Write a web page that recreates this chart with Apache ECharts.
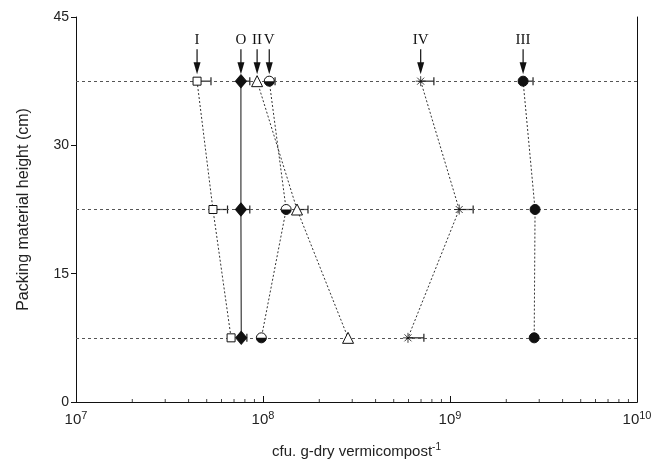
<!DOCTYPE html>
<html><head><meta charset="utf-8">
<script src="https://cdn.jsdelivr.net/npm/echarts@6/dist/echarts.min.js"></script>
<style>html,body{margin:0;padding:0;background:#fff}#c{width:655px;height:465px}</style>
</head><body><div id="c"></div>
<script>
// ---- data ----
const heights = [37.5, 22.5, 7.5];
const yTicks = [0, 15, 30, 45];
const xExponents = [7, 8, 9, 10];
const minorDecades = [1e7, 1e8, 1e9];
const minorMultipliers = [2, 3, 4, 5, 6, 7, 8, 9];
const seriesNames = ['I', 'O', 'II', 'V', 'IV', 'III'];
const valI   = [4.44e7, 5.4e7, 6.75e7];
const errI   = [5.27e7, 6.46e7, null];
const valO   = [7.62e7, 7.62e7, 7.65e7];
const errO   = [8.5e7, 8.5e7, 8.2e7];
const valII  = [9.3e7, 1.52e8, 2.85e8];
const errII  = [null, 1.74e8, null];
const valV   = [1.08e8, 1.33e8, 9.8e7];
const errV   = [1.16e8, null, null];
const valIV  = [6.97e8, 1.12e9, 5.96e8];
const errIV  = [8.2e8, 1.33e9, 7.25e8];
const valIII = [2.46e9, 2.85e9, 2.82e9];
const errIII = [2.78e9, 2.9e9, null];

const allVals = [valI, valO, valII, valV, valIV, valIII];
const allErrs = [errI, errO, errII, errV, errIV, errIII];

const pts = v => v.map((x, i) => [x, heights[i]]);
const INK = '#111';
const DOT = '#333';

const errData = [];
allVals.forEach((v, s) => v.forEach((x, i) => {
  if (allErrs[s][i] != null) errData.push([x, heights[i], allErrs[s][i]]);
}));
const arrowData = seriesNames.map((n, i) => [allVals[i][0], heights[0], n]);
const minorData = [];
minorDecades.forEach(d => minorMultipliers.forEach(m => minorData.push([d * m, 0])));

function lineSeries(v, solid) {
  return {
    type: 'line', data: pts(v), symbol: 'none', z: 3,
    lineStyle: { color: solid ? INK : DOT, width: 1, type: solid ? 'solid' : [2, 2] },
    silent: true
  };
}
function scatter(v, symbol, size, fill) {
  return {
    type: 'scatter', data: pts(v), symbol: symbol, symbolSize: size, z: 6,
    itemStyle: { color: fill, borderColor: INK, borderWidth: 1, opacity: 1 }
  };
}

const option = {
  animation: false,
  backgroundColor: '#fff',
  grid: { left: 76, right: 18, top: 17, bottom: 63 },
  xAxis: [{
    type: 'log', min: 1e7, max: 1e10, logBase: 10,
    axisLine: { show: true, lineStyle: { color: INK, width: 1 } },
    axisTick: { show: true, inside: true, length: 6, lineStyle: { color: INK } },
    minorTick: { show: false },
    splitLine: { show: false },
    axisLabel: {
      margin: 8,
      formatter: function (val) {
        const e = Math.round(Math.log10(val));
        return '{b|10}{s|' + e + '}';
      },
      rich: {
        b: { fontSize: 15, fontFamily: 'Liberation Sans', color: '#222' },
        s: { fontSize: 11, fontFamily: 'Liberation Sans', color: '#222', padding: [0, 0, 9, 0] }
      }
    },
    name: 'cfu. g-dry vermicompost{s|-1}',
    nameLocation: 'middle', nameGap: 40,
    nameTextStyle: {
      fontSize: 15, fontFamily: 'Liberation Sans', color: '#222',
      rich: { s: { fontSize: 10, fontFamily: 'Liberation Sans', color: '#222', padding: [0, 0, 9, 0] } }
    }
  }, {
    type: 'log', min: 1e7, max: 1e10, position: 'top',
    axisLine: { show: true, lineStyle: { color: INK, width: 1 } },
    axisTick: { show: false }, axisLabel: { show: false }, splitLine: { show: false }
  }],
  yAxis: [{
    type: 'value', min: 0, max: 45, interval: 15,
    axisLine: { show: true, lineStyle: { color: INK, width: 1 } },
    axisTick: { show: true, inside: false, length: 5, lineStyle: { color: INK } },
    splitLine: { show: false },
    axisLabel: { fontSize: 14, fontFamily: 'Liberation Sans', color: '#222', margin: 7 },
    name: 'Packing material height (cm)', nameLocation: 'middle', nameGap: 44, nameRotate: 90,
    nameTextStyle: { fontSize: 16, fontFamily: 'Liberation Sans', color: '#222' }
  }, {
    type: 'value', min: 0, max: 45, interval: 15, position: 'right',
    axisLine: { show: true, lineStyle: { color: INK, width: 1 } },
    axisTick: { show: false }, axisLabel: { show: false }, splitLine: { show: false }
  }],
  series: [
    {
      type: 'line', data: [], z: 1,
      markLine: {
        silent: true, symbol: 'none', label: { show: false },
        lineStyle: { color: '#555', width: 1, type: [3, 3] },
        data: heights.map(h => ({ yAxis: h }))
      }
    },
    {
      type: 'custom', data: minorData, z: 2, silent: true, clip: false,
      renderItem: function (params, api) {
        const p = api.coord([api.value(0), api.value(1)]);
        return { type: 'line', shape: { x1: p[0], y1: p[1], x2: p[0], y2: p[1] - 3 }, style: { stroke: '#444', lineWidth: 1 } };
      }
    },
    lineSeries(valI, false),
    lineSeries(valO, true),
    lineSeries(valII, false),
    lineSeries(valV, false),
    lineSeries(valIV, false),
    lineSeries(valIII, false),
    {
      type: 'custom', data: errData, z: 4, silent: true,
      renderItem: function (params, api) {
        const p1 = api.coord([api.value(0), api.value(1)]);
        const p2 = api.coord([api.value(2), api.value(1)]);
        return {
          type: 'group', children: [
            { type: 'line', shape: { x1: p1[0], y1: p1[1], x2: p2[0], y2: p2[1] }, style: { stroke: '#222', lineWidth: 1.2 } },
            { type: 'line', shape: { x1: p2[0], y1: p2[1] - 4, x2: p2[0], y2: p2[1] + 4 }, style: { stroke: '#222', lineWidth: 1.2 } }
          ]
        };
      }
    },
    scatter(valI, 'rect', 8, '#fff'),
    scatter(valO, 'diamond', [11, 13], INK),
    scatter(valII, 'triangle', 11, '#fff'),
    {
      type: 'custom', data: pts(valV), z: 6, silent: true,
      renderItem: function (params, api) {
        const p = api.coord([api.value(0), api.value(1)]);
        return {
          type: 'group', children: [
            { type: 'circle', shape: { cx: p[0], cy: p[1], r: 5 }, style: { fill: '#fff', stroke: INK, lineWidth: 1 } },
            { type: 'sector', shape: { cx: p[0], cy: p[1], r: 5, r0: 0, startAngle: 0, endAngle: Math.PI, clockwise: true }, style: { fill: INK } }
          ]
        };
      }
    },
    {
      type: 'scatter', data: pts(valIV), z: 6, symbolSize: 10,
      symbol: 'path://M0,5L10,5M5,0L5,10M1.5,1.5L8.5,8.5M1.5,8.5L8.5,1.5',
      itemStyle: { color: 'none', borderColor: INK, borderWidth: 1 }
    },
    scatter(valIII, 'circle', 10, INK),
    {
      type: 'custom', data: arrowData, z: 7, silent: true,
      renderItem: function (params, api) {
        const p = api.coord([api.value(0), api.value(1)]);
        const name = arrowData[params.dataIndex][2];
        return {
          type: 'group', children: [
            { type: 'text', x: p[0], y: p[1] - 41, style: { text: name, align: 'center', verticalAlign: 'middle', font: '15px "Liberation Serif"', fill: '#111' } },
            { type: 'line', shape: { x1: p[0], y1: p[1] - 32, x2: p[0], y2: p[1] - 17 }, style: { stroke: '#111', lineWidth: 1.2 } },
            { type: 'polygon', shape: { points: [[p[0] - 3.5, p[1] - 19], [p[0] + 3.5, p[1] - 19], [p[0], p[1] - 7]] }, style: { fill: '#111' } }
          ]
        };
      }
    }
  ]
};
const chart = echarts.init(document.getElementById('c'), null, { renderer: 'canvas' });
chart.setOption(option);
</script>
</body></html>
